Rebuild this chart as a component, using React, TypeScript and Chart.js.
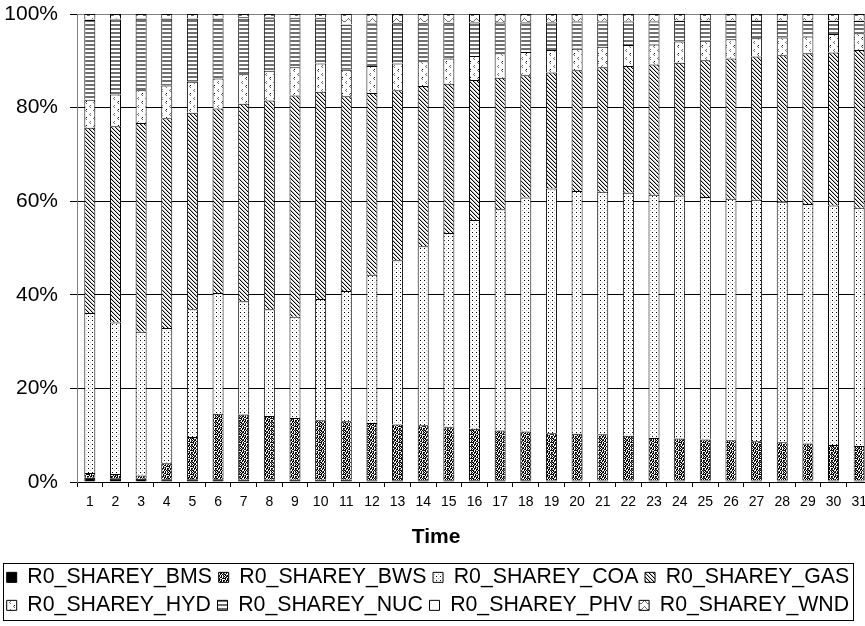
import React, { useEffect, useRef } from 'react';
import { Chart, registerables } from 'chart.js';

Chart.register(...registerables);

const categories = ['1', '2', '3', '4', '5', '6', '7', '8', '9', '10', '11', '12', '13', '14', '15', '16', '17', '18', '19', '20', '21', '22', '23', '24', '25', '26', '27', '28', '29', '30', '31'];

const seriesNames = ['R0_SHAREY_BMS', 'R0_SHAREY_BWS', 'R0_SHAREY_COA', 'R0_SHAREY_GAS', 'R0_SHAREY_HYD', 'R0_SHAREY_NUC', 'R0_SHAREY_PHV', 'R0_SHAREY_WND'];

const bms = [0.9, 0.8, 0.7, 0.6, 0.6, 0.6, 0.5, 0.5, 0.5, 0.5, 0.5, 0.4, 0.4, 0.4, 0.4, 0.4, 0.4, 0.4, 0.3, 0.3, 0.3, 0.3, 0.3, 0.3, 0.3, 0.3, 0.3, 0.3, 0.3, 0.3, 0.3];
const bws = [1.0, 0.9, 0.7, 3.4, 9.0, 14.0, 13.9, 13.6, 13.2, 12.7, 12.5, 12.2, 11.9, 11.7, 11.3, 11.0, 10.6, 10.4, 10.1, 10.0, 9.9, 9.6, 9.1, 9.0, 8.8, 8.6, 8.4, 8.2, 7.9, 7.6, 7.4];
const coa = [34.2, 32.4, 30.7, 28.9, 27.3, 25.8, 24.2, 22.8, 21.6, 25.9, 27.8, 31.7, 35.1, 38.3, 41.5, 44.6, 47.3, 50.0, 52.3, 51.9, 51.8, 51.9, 52.0, 51.9, 51.8, 51.6, 51.6, 51.4, 51.2, 51.2, 50.9];
const gas = [39.6, 41.9, 44.6, 44.8, 42.0, 39.4, 42.2, 44.6, 47.3, 44.3, 41.6, 38.8, 36.3, 34.2, 31.9, 29.9, 28.1, 26.1, 24.8, 25.8, 26.6, 27.1, 27.8, 28.4, 29.2, 30.0, 30.6, 31.3, 32.2, 32.7, 33.7];
const hyd = [6.0, 6.8, 7.0, 7.0, 6.6, 6.4, 6.3, 6.4, 6.0, 6.0, 5.7, 5.8, 5.7, 5.3, 5.4, 5.1, 5.2, 5.0, 4.8, 4.6, 4.4, 4.5, 4.3, 4.5, 4.2, 4.1, 3.9, 3.8, 3.6, 3.9, 3.6];
const nuc = [17.0, 16.0, 15.3, 14.3, 13.5, 12.8, 11.9, 11.2, 10.5, 9.7, 9.6, 8.9, 8.6, 8.1, 7.5, 7.2, 6.6, 6.3, 5.9, 5.8, 5.4, 5.0, 4.9, 4.4, 4.2, 3.9, 3.7, 3.5, 3.3, 2.8, 2.6];
const phv = [0.1, 0.2, 0.1, 0.1, 0.1, 0.1, 0.3, 0.2, 0.1, 0.1, 0.1, 0.2, 0.1, 0.1, 0.1, 0.1, 0.1, 0.1, 0.1, 0.1, 0.1, 0.1, 0.1, 0.1, 0.1, 0.1, 0.2, 0.1, 0.1, 0.1, 0.1];
const wnd = [1.2, 1.0, 0.9, 0.9, 0.9, 0.9, 0.7, 0.7, 0.8, 0.8, 2.2, 2.0, 1.9, 1.9, 1.9, 1.7, 1.7, 1.7, 1.7, 1.5, 1.5, 1.5, 1.5, 1.4, 1.4, 1.4, 1.3, 1.4, 1.4, 1.4, 1.4];

const yTickValues = [0, 20, 40, 60, 80, 100];

const FONT = 'Arial, "Liberation Sans", sans-serif';

function makeTile(rows: string[]): CanvasPattern | string {
  const palette: Record<string, string> = { k: '#000000', g: '#707070', l: '#b8b8b8', '.': '#ffffff' };
  const h = rows.length;
  const w = rows[0].length;
  const c = document.createElement('canvas');
  c.width = w;
  c.height = h;
  const cx = c.getContext('2d')!;
  for (let y = 0; y < h; y++) {
    for (let x = 0; x < w; x++) {
      cx.fillStyle = palette[rows[y][x]] || '#ffffff';
      cx.fillRect(x, y, 1, 1);
    }
  }
  const p = cx.createPattern(c, 'repeat');
  return p || '#ffffff';
}

export default function App() {
  const ref = useRef<HTMLCanvasElement>(null);

  useEffect(() => {
    const canvas = ref.current!;
    const fills = [
      '#000000',
      makeTile(['k.kk.k.g', '.kg.kk.k', 'kk.k..kk', '.k.kgk..', 'k.kk.k.k', 'g.k.kk.k', 'kk..k.kg', '.kgk.k.k']),
      makeTile(['k...', '....', '..l.', '....']),
      makeTile(['kl..', '.kl.', '..kl', 'l..k']),
      makeTile(['........', '..g.....', '.g......', '..g.....', '........', '......k.', '.....g..', '......g.']),
      makeTile(['g', 'g', '.', '.']),
      '#ffffff',
      makeTile(['....g...', '...g.g..', '..g...g.', 'gg.....g', '........', '........']),
    ];
    const values = [bms, bws, coa, gas, hyd, nuc, phv, wnd];

    const legendBorder = {
      id: 'legendBorder',
      afterDraw(chart: any) {
        const lg = chart.legend;
        if (!lg || !lg.legendHitBoxes || !lg.legendHitBoxes.length) return;
        const hb = lg.legendHitBoxes;
        let l = Infinity, r = -Infinity, t = Infinity, b = -Infinity;
        for (const h of hb) {
          l = Math.min(l, h.left);
          r = Math.max(r, h.left + h.width);
          t = Math.min(t, h.top);
          b = Math.max(b, h.top + h.height);
        }
        const ctx = chart.ctx;
        ctx.save();
        ctx.strokeStyle = '#000';
        ctx.lineWidth = 1;
        ctx.strokeRect(Math.round(l - 4) + 0.5, Math.round(t - 4) + 0.5, Math.round(r - l + 8), Math.round(b - t + 8));
        ctx.restore();
      },
    };

    const chart = new Chart(canvas, {
      type: 'bar',
      data: {
        labels: categories,
        datasets: seriesNames.map((name, i) => ({
          label: name,
          data: values[i],
          backgroundColor: fills[i] as any,
          borderColor: '#000',
          borderWidth: 1,
          categoryPercentage: 1,
          barPercentage: 0.43,
        })),
      },
      options: {
        animation: false,
        responsive: false,
        devicePixelRatio: 1,
        layout: { padding: { top: 14, left: 0, right: 8, bottom: 0 } },
        scales: {
          x: {
            stacked: true,
            grid: { drawOnChartArea: false, drawTicks: true, tickLength: 5, color: '#000', offset: true },
            border: { color: '#000', width: 1 },
            ticks: { color: '#000', font: { family: FONT, size: 14 }, padding: 7, maxRotation: 0, autoSkip: false },
          },
          y: {
            stacked: true,
            min: 0,
            max: 100,
            afterFit(scale: any) {
              scale.width = 77;
              scale.paddingTop = 0;
              scale.paddingBottom = 0;
            },
            afterBuildTicks(scale: any) { scale.ticks = yTickValues.map((v) => ({ value: v })); },
            grid: {
              color: (c: any) => (c.tick && c.tick.value === 100 ? '#808080' : '#000'),
              lineWidth: 1,
              tickLength: 7,
              tickColor: '#000',
            },
            border: { color: '#808080', width: 1 },
            ticks: { color: '#000', font: { family: FONT, size: 21 }, padding: 12, callback: (v: any) => v + '%' },
          },
        },
        plugins: {
          tooltip: { enabled: false },
          title: {
            display: true,
            text: 'Time',
            position: 'bottom',
            weight: 500,
            color: '#000',
            font: { family: FONT, size: 21, weight: 'bold' },
            padding: { top: 7, bottom: 10 },
          },
          legend: {
            display: true,
            position: 'bottom',
            align: 'start',
            labels: {
              color: '#000',
              font: { family: FONT, size: 21.3 },
              boxWidth: 10,
              boxHeight: 10,
              padding: 6.7,
            },
          },
        },
      },
      plugins: [legendBorder],
    });
    return () => chart.destroy();
  }, []);

  return (
    <div style={{ position: 'fixed', left: 0, top: 0, width: 865, height: 626, overflow: 'hidden', background: '#fff' }}>
      <canvas ref={ref} width={880} height={626} style={{ display: 'block' }} />
    </div>
  );
}
